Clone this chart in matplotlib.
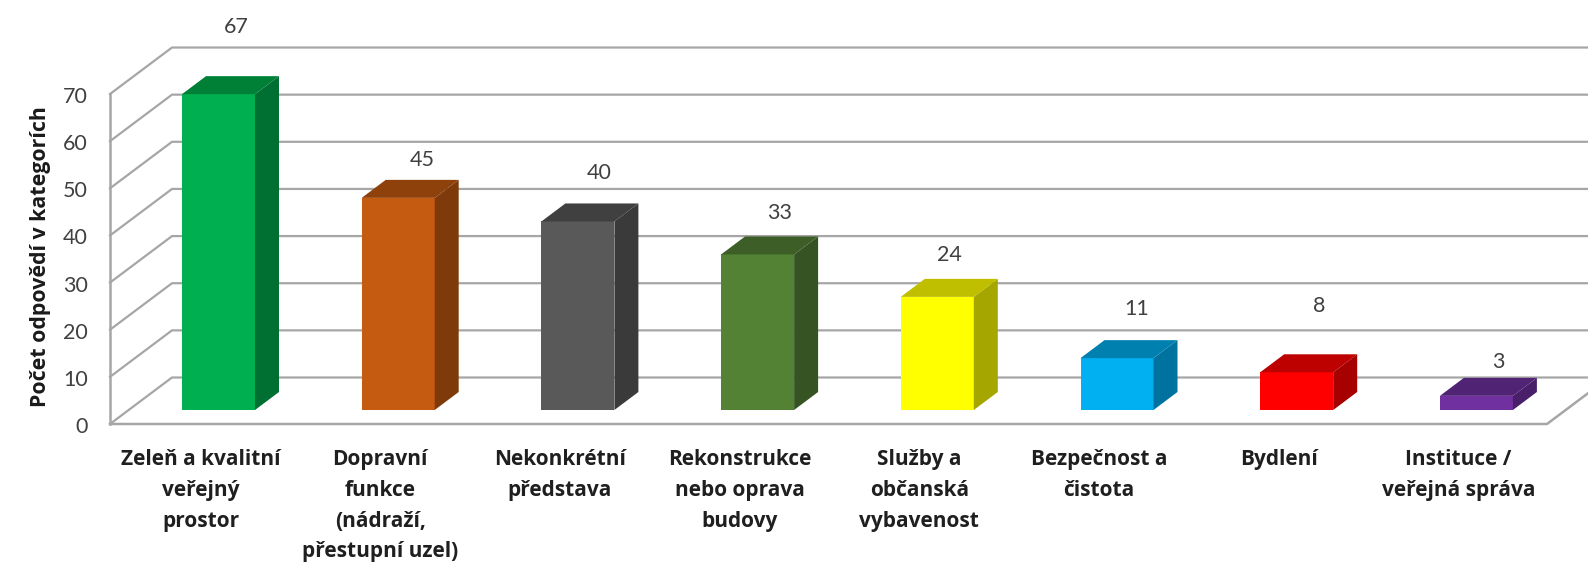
#!/usr/bin/env python3

from matplotlib import pyplot as plt

CATEGORIES = [
    "Zeleň a kvalitní\nveřejný\nprostor",
    "Dopravní\nfunkce\n(nádraží,\npřestupní uzel)",
    "Nekonkrétní\npředstava",
    "Rekonstrukce\nnebo oprava\nbudovy",
    "Služby a\nobčanská\nvybavenost",
    "Bezpečnost a\nčistota",
    "Bydlení",
    "Instituce /\nveřejná správa",
]
VALUES = [67, 45, 40, 33, 24, 11, 8, 3]
Y_TICKS = [0, 10, 20, 30, 40, 50, 60, 70]

FRONT_COLORS = ["#00B050", "#C55A11", "#595959", "#548235", "#FFFF00", "#00B0F0", "#FF0000", "#7030A0"]
SIDE_COLORS = ["#006F32", "#7F3A0B", "#3A3A3A", "#365423", "#A6A600", "#0072A0", "#A60000", "#481F68"]
TOP_COLORS = ["#008037", "#8F410C", "#404040", "#3D5E26", "#BFBF00", "#0080AE", "#BD0000", "#512374"]

# label offsets from the front top of each bar, in pixels
LABEL_DX = [18, 24, 21, 22, 12, 20, 22, 22]
LABEL_DY = [67, 38, 48, 41, 42, 49, 66, 34]

# pixel scale of the fake 3D box
PX_X = 179.7  # one category
PX_Y = 4.714  # one answer
ZERO_X = 218.5
ZERO_Y = 424

BAR_WIDTH = 73 / PX_X
BAR_LIFT = 14 / PX_Y
BAR_DX = 24 / PX_X
BAR_DY = 18 / PX_Y
WALL_DX = 62 / PX_X
WALL_DY = 46.5 / PX_Y
WALL_LEFT = (110 - ZERO_X) / PX_X
WALL_RIGHT = (1547 - ZERO_X) / PX_X

GRID = "#A6A6A6"
plt.rcParams["font.family"] = ["Lato", "DejaVu Sans"]

fig = plt.figure(figsize=(15.88, 5.62), dpi=100)
ax = fig.add_axes([0, 0, 1, 1])
ax.set_xlim(-ZERO_X / PX_X, (1588 - ZERO_X) / PX_X)
ax.set_ylim(-(562 - ZERO_Y) / PX_Y, ZERO_Y / PX_Y)
ax.axis("off")

# walls and gridlines
for tick in Y_TICKS:
    ax.plot([WALL_LEFT, WALL_LEFT + WALL_DX, WALL_RIGHT + WALL_DX],
            [tick, tick + WALL_DY, tick + WALL_DY], color=GRID, lw=1.6, zorder=1)
    ax.annotate(str(tick), (WALL_LEFT, tick), xytext=(-22, -3), textcoords="offset pixels",
                ha="right", va="center", fontsize=15.5, color="#404040")
ax.plot([WALL_LEFT, WALL_LEFT], [0, Y_TICKS[-1]], color=GRID, lw=1.8, zorder=1)
ax.plot([WALL_LEFT, WALL_RIGHT, WALL_RIGHT + WALL_DX], [0, 0, WALL_DY],
        color=GRID, lw=1.8, zorder=1)

# bars
for i, value in enumerate(VALUES):
    left = i - BAR_WIDTH / 2
    right = i + BAR_WIDTH / 2
    top = value + BAR_LIFT
    ax.bar(i, value, BAR_WIDTH, bottom=BAR_LIFT, color=FRONT_COLORS[i], zorder=3)
    ax.fill([right, right + BAR_DX, right + BAR_DX, right],
            [BAR_LIFT, BAR_LIFT + BAR_DY, top + BAR_DY, top],
            color=SIDE_COLORS[i], lw=0, zorder=3)
    ax.fill([left, left + BAR_DX, right + BAR_DX, right],
            [top, top + BAR_DY, top + BAR_DY, top],
            color=TOP_COLORS[i], lw=0, zorder=3)
    ax.annotate(str(value), (i, top), xytext=(LABEL_DX[i], LABEL_DY[i]),
                textcoords="offset pixels", ha="center", va="center",
                fontsize=15.5, color="#404040", zorder=4)
    ax.annotate(CATEGORIES[i], (i, 0), xytext=(-18, -25), textcoords="offset pixels",
                ha="center", va="top", fontsize=15, fontweight="bold", family=["Open Sans", "DejaVu Sans"],
                color="#1F1F1F", linespacing=1.61)

fig.text(41 / 1588, 1 - 257 / 562, "Počet odpovědí v kategorích", rotation=90,
         ha="center", va="center", fontsize=15.4, fontweight="bold",
         family=["Open Sans", "DejaVu Sans"], color="#1A1A1A")

plt.savefig("out.png", dpi=100)
